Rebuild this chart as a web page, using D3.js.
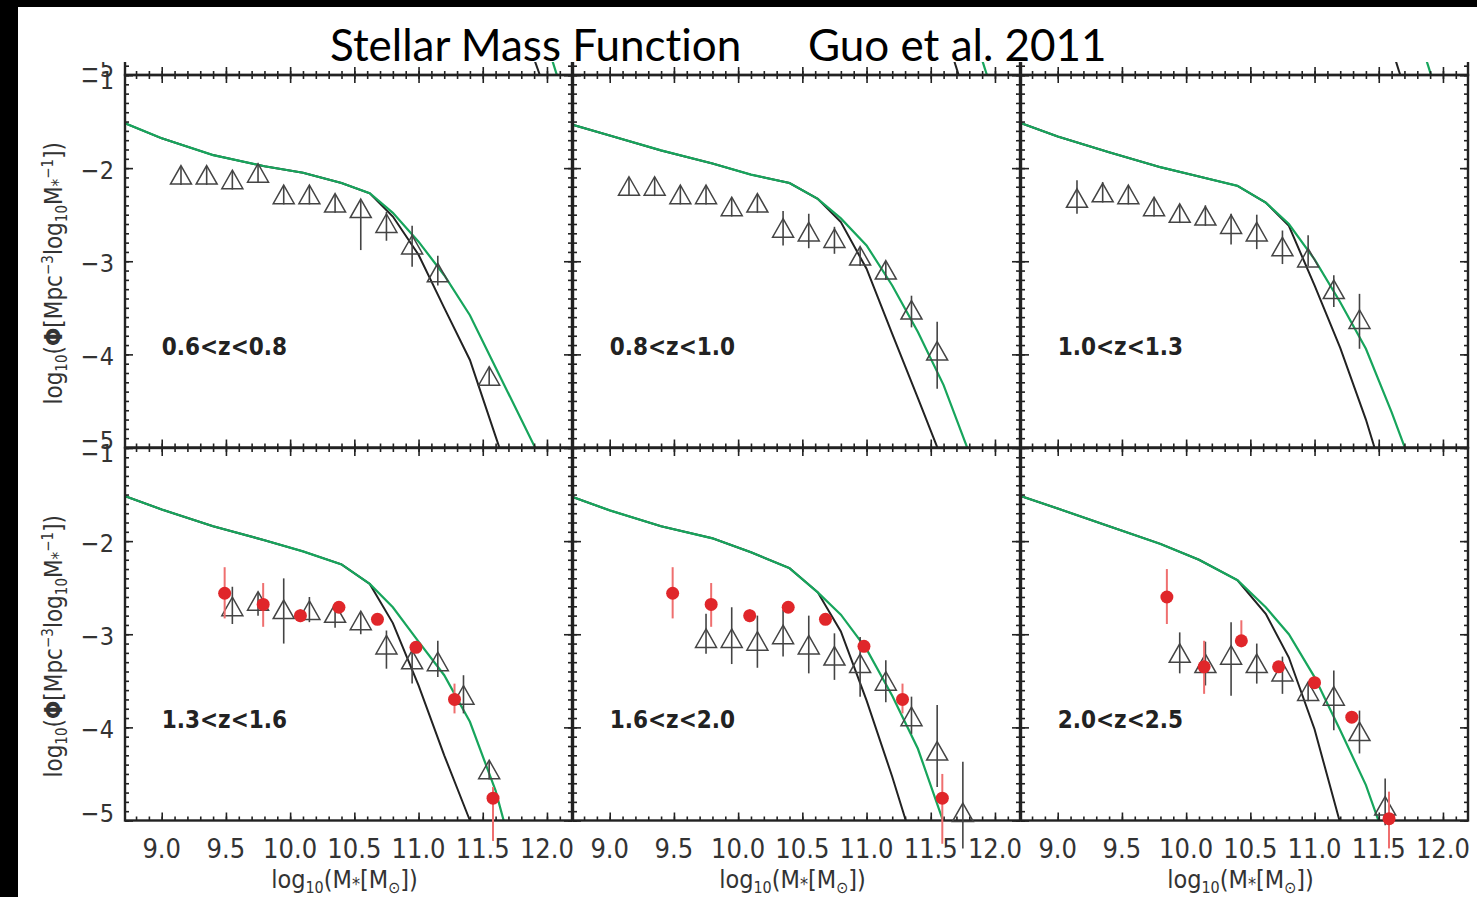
<!DOCTYPE html>
<html>
<head>
<meta charset="utf-8">
<script src="https://cdn.jsdelivr.net/npm/d3@7"></script>
<style>
  body { margin: 0; background: #000; }
  svg { display: block; }
  .title { font-variant-ligatures: none; }
</style>
</head>
<body>
<svg id="chart"></svg>
<script>
// Panel labels (redshift bins), left-to-right, top-to-bottom
const zBins = ['0.6<z<0.8', '0.8<z<1.0', '1.0<z<1.3', '1.3<z<1.6', '1.6<z<2.0', '2.0<z<2.5'];

// Axis ticks
const massMajor = [9.0, 9.5, 10.0, 10.5, 11.0, 11.5, 12.0];
const phiMajor = [-1, -2, -3, -4, -5];

// Model curves (black and green) on a shared mass grid
const curveMass = [8.7, 9.0, 9.4, 9.8, 10.1, 10.4, 10.62, 10.8, 11.0, 11.2, 11.4, 11.6, 11.8, 12.0];
const blackPhi = [
  [-1.51, -1.68, -1.86, -1.98, -2.05, -2.16, -2.27, -2.52, -2.93, -3.50, -4.06, -4.88, -5.7, -6.5],
  [-1.53, -1.65, -1.81, -1.95, -2.07, -2.16, -2.33, -2.58, -3.08, -3.78, -4.47, -5.17, -5.9, -6.6],
  [-1.51, -1.66, -1.83, -1.99, -2.09, -2.19, -2.37, -2.62, -3.26, -3.93, -4.70, -5.6, -6.5, -7.4],
  [-1.51, -1.66, -1.84, -1.99, -2.11, -2.25, -2.46, -2.88, -3.55, -4.30, -5.0, -5.7, -6.4, -7.1],
  [-1.52, -1.67, -1.84, -1.97, -2.12, -2.29, -2.55, -2.97, -3.71, -4.53, -5.42, -6.3, -7.2, -8.1],
  [-1.51, -1.65, -1.84, -2.03, -2.20, -2.42, -2.78, -3.25, -4.02, -5.03, -6.0, -7.0, -8.0, -9.0]
];
const greenPhi = [
  [-1.51, -1.68, -1.86, -1.98, -2.05, -2.16, -2.27, -2.48, -2.79, -3.15, -3.58, -4.14, -4.70, -5.26],
  [-1.53, -1.65, -1.81, -1.95, -2.07, -2.16, -2.33, -2.54, -2.83, -3.26, -3.76, -4.33, -5.06, -5.8],
  [-1.51, -1.66, -1.83, -1.99, -2.09, -2.19, -2.37, -2.60, -2.98, -3.44, -3.94, -4.62, -5.36, -6.1],
  [-1.51, -1.66, -1.84, -1.99, -2.11, -2.25, -2.46, -2.71, -3.08, -3.44, -3.94, -4.68, -5.7, -6.7],
  [-1.52, -1.67, -1.84, -1.97, -2.12, -2.29, -2.55, -2.79, -3.16, -3.66, -4.23, -5.02, -5.9, -6.8],
  [-1.51, -1.65, -1.84, -2.03, -2.20, -2.42, -2.71, -3.00, -3.46, -4.03, -4.62, -5.4, -6.2, -7.0]
];

// Curves of the cropped row above (only their ends show under the title)
const aboveMass = [[11.88, 11.97], [11.66, 11.74], [11.61, 11.69]];
const aboveBlackPhi = [-4.75, -5.1];
const aboveGreenMass = [[12.02, 12.10], [11.88, 11.96], [11.85, 11.93]];

// Open triangles with error bars
const triMass = [
  [9.15, 9.35, 9.55, 9.75, 9.95, 10.15, 10.35, 10.55, 10.75, 10.95, 11.15, 11.55],
  [9.15, 9.35, 9.55, 9.75, 9.95, 10.15, 10.35, 10.55, 10.75, 10.95, 11.15, 11.35, 11.55],
  [9.15, 9.35, 9.55, 9.75, 9.95, 10.15, 10.35, 10.55, 10.75, 10.95, 11.15, 11.35],
  [9.55, 9.75, 9.95, 10.15, 10.35, 10.55, 10.75, 10.95, 11.15, 11.35, 11.55],
  [9.75, 9.95, 10.15, 10.35, 10.55, 10.75, 10.95, 11.15, 11.35, 11.55, 11.75],
  [9.95, 10.15, 10.35, 10.55, 10.75, 10.95, 11.15, 11.35, 11.55]
];
const triPhi = [
  [-2.08, -2.08, -2.13, -2.06, -2.29, -2.29, -2.38, -2.44, -2.60, -2.83, -3.13, -4.24],
  [-2.20, -2.20, -2.29, -2.29, -2.42, -2.38, -2.65, -2.69, -2.76, -2.95, -3.10, -3.53, -3.97],
  [-2.33, -2.27, -2.29, -2.42, -2.49, -2.52, -2.61, -2.69, -2.85, -2.97, -3.31, -3.63],
  [-2.71, -2.65, -2.74, -2.75, -2.78, -2.86, -3.12, -3.28, -3.30, -3.66, -4.46],
  [-3.05, -3.05, -3.08, -3.01, -3.12, -3.24, -3.32, -3.51, -3.89, -4.26, -4.92],
  [-3.21, -3.32, -3.23, -3.32, -3.41, -3.62, -3.67, -4.05, -4.85]
];
const triHi = [
  [-1.98, -1.98, -2.03, -1.96, -2.19, -2.19, -2.28, -2.35, -2.47, -2.62, -2.94, -4.14],
  [-2.10, -2.10, -2.19, -2.19, -2.32, -2.28, -2.46, -2.49, -2.63, -2.85, -3.00, -3.37, -3.65],
  [-2.13, -2.15, -2.19, -2.32, -2.39, -2.40, -2.49, -2.50, -2.67, -2.72, -3.15, -3.35],
  [-2.49, -2.55, -2.40, -2.60, -2.68, -2.77, -2.96, -3.14, -3.07, -3.44, -4.36],
  [-2.78, -2.71, -2.80, -2.74, -2.80, -2.99, -3.03, -3.28, -3.67, -3.76, -4.37],
  [-2.98, -3.08, -2.87, -3.10, -3.24, -3.52, -3.39, -3.82, -4.55]
];
const triLo = [
  [-2.18, -2.18, -2.23, -2.16, -2.39, -2.39, -2.48, -2.88, -2.78, -3.06, -3.26, -4.34],
  [-2.30, -2.30, -2.39, -2.39, -2.52, -2.48, -2.83, -2.86, -2.92, -3.05, -3.20, -3.71, -4.37],
  [-2.49, -2.37, -2.39, -2.52, -2.59, -2.62, -2.82, -2.87, -3.03, -3.05, -3.49, -3.94],
  [-2.89, -2.80, -3.10, -2.87, -2.93, -3.00, -3.37, -3.53, -3.46, -3.85, -4.56],
  [-3.21, -3.32, -3.36, -3.24, -3.42, -3.49, -3.67, -3.73, -4.07, -4.64, -5.30],
  [-3.42, -3.55, -3.66, -3.53, -3.64, -3.72, -4.03, -4.28, -5.05]
];

// Red filled circles (bottom row only)
const dotMass = [
  [], [], [],
  [9.49, 9.79, 10.08, 10.38, 10.68, 10.98, 11.28, 11.58],
  [9.49, 9.79, 10.09, 10.39, 10.68, 10.98, 11.28, 11.59],
  [9.85, 10.14, 10.43, 10.72, 11.00, 11.29, 11.58]
];
const dotPhi = [
  [], [], [],
  [-2.56, -2.68, -2.80, -2.71, -2.84, -3.14, -3.70, -4.76],
  [-2.56, -2.68, -2.80, -2.71, -2.84, -3.13, -3.70, -4.76],
  [-2.60, -3.35, -3.07, -3.35, -3.52, -3.89, -4.98]
];
const dotHi = [
  [], [], [],
  [-2.28, -2.45, -2.73, -2.66, -2.78, -3.08, -3.53, -4.64],
  [-2.28, -2.45, -2.73, -2.66, -2.78, -3.07, -3.53, -4.50],
  [-2.30, -3.07, -2.85, -3.29, -3.46, -3.83, -4.69]
];
const dotLo = [
  [], [], [],
  [-2.83, -2.92, -2.87, -2.76, -2.90, -3.20, -3.85, -5.22],
  [-2.83, -2.92, -2.87, -2.76, -2.90, -3.19, -3.85, -5.25],
  [-2.89, -3.64, -3.14, -3.41, -3.58, -3.95, -5.30]
];

// Layout
const W = 1477, H = 897;
const colLeft = [125, 573, 1021];
const rowTop = [75, 448];
const panelW = 447, panelH = 372.5;
const figTop = 62;          // the figure crop starts just under the title
const axisFont = "'DejaVu Sans', sans-serif";
const ink = '#222';

const svg = d3.select('#chart').attr('width', W).attr('height', H);

svg.append('rect').attr('width', W).attr('height', H).attr('fill', '#000');
svg.append('rect').attr('x', 18).attr('y', 7).attr('width', W - 18).attr('height', H - 7).attr('fill', '#fff');

const defs = svg.append('defs');
defs.append('clipPath').attr('id', 'figclip')
  .append('rect').attr('x', 18).attr('y', figTop).attr('width', W).attr('height', H);

const fig = svg.append('g').attr('clip-path', 'url(#figclip)');

const line = d3.line();

function tickSet(g, axisFn, scale, values, size, tx, ty) {
  g.append('g')
    .attr('transform', `translate(${tx},${ty})`)
    .call(axisFn(scale).tickValues(values).tickSize(size).tickFormat(''))
    .call(s => s.select('.domain').remove())
    .selectAll('line').attr('stroke', ink).attr('stroke-width', 1.6);
}

const massMinor = d3.range(88, 122).map(d => d / 10);
const phiMinor = d3.range(-50, -9).map(d => d / 10);

// rows -1 (cropped row above), 0 and 1
[-1, 0, 1].forEach(row => {
  const top = row < 0 ? rowTop[0] - panelH : rowTop[row];
  const y = d3.scaleLinear().domain([-1, -5]).range([top, top + panelH]);

  colLeft.forEach((L, col) => {
    const x = d3.scaleLinear().domain([8.714, 12.195]).range([L, L + panelW]);
    const g = fig.append('g');
    const idx = row * 3 + col;

    // curves
    const cid = `clip${row + 1}_${col}`;
    defs.append('clipPath').attr('id', cid)
      .append('rect').attr('x', L).attr('y', top).attr('width', panelW).attr('height', panelH);
    const cg = g.append('g').attr('clip-path', `url(#${cid})`);
    if (row < 0) {
      cg.append('path')
        .attr('d', line(aboveMass[col].map((m, i) => [x(m), y(aboveBlackPhi[i])])))
        .attr('fill', 'none').attr('stroke', ink).attr('stroke-width', 2);
      cg.append('path')
        .attr('d', line(aboveGreenMass[col].map((m, i) => [x(m), y(aboveBlackPhi[i])])))
        .attr('fill', 'none').attr('stroke', '#17a55c').attr('stroke-width', 2.2);
    } else {
      cg.append('path')
        .attr('d', line(curveMass.map((m, i) => [x(m), y(blackPhi[idx][i])])))
        .attr('fill', 'none').attr('stroke', ink).attr('stroke-width', 2);
      cg.append('path')
        .attr('d', line(curveMass.map((m, i) => [x(m), y(greenPhi[idx][i])])))
        .attr('fill', 'none').attr('stroke', '#17a55c').attr('stroke-width', 2.2);
    }

    // frame and inward ticks
    tickSet(g, d3.axisTop, x, massMinor, 4, 0, top + panelH);
    tickSet(g, d3.axisTop, x, massMajor, 8, 0, top + panelH);
    tickSet(g, d3.axisBottom, x, massMinor, 4, 0, top);
    tickSet(g, d3.axisBottom, x, massMajor, 8, 0, top);
    tickSet(g, d3.axisRight, y, phiMinor, 4, L, 0);
    tickSet(g, d3.axisRight, y, phiMajor, 8, L, 0);
    tickSet(g, d3.axisLeft, y, phiMinor, 4, L + panelW, 0);
    tickSet(g, d3.axisLeft, y, phiMajor, 8, L + panelW, 0);
    g.append('rect')
      .attr('x', L).attr('y', top).attr('width', panelW).attr('height', panelH)
      .attr('fill', 'none').attr('stroke', ink).attr('stroke-width', 2.4);

    // y tick labels on the first column (only the -5 of the cropped row shows)
    if (col === 0) {
      g.selectAll('.ylab').data(row < 0 ? [-5] : phiMajor).enter().append('text')
        .attr('x', L - 11)
        .attr('y', d => y(d) + (d === -5 ? -7 : d === -1 ? 5 : 2))
        .attr('text-anchor', 'end')
        .attr('dominant-baseline', 'central')
        .attr('font-family', axisFont).attr('font-stretch', 'condensed')
        .attr('font-size', 25).attr('fill', '#333')
        .text(d => '\u2212' + Math.abs(d));
    }
    if (row < 0) return;

    // triangles with error bars
    const tri = triMass[idx].map((m, i) => ({ m, p: triPhi[idx][i], hi: triHi[idx][i], lo: triLo[idx][i] }));
    g.selectAll('.terr').data(tri).enter().append('line')
      .attr('x1', d => x(d.m)).attr('x2', d => x(d.m))
      .attr('y1', d => y(d.hi)).attr('y2', d => y(d.lo))
      .attr('stroke', '#444').attr('stroke-width', 1.6);
    g.selectAll('.tri').data(tri).enter().append('path')
      .attr('transform', d => `translate(${x(d.m)},${y(d.p)})`)
      .attr('d', 'M0,-10L10.5,8.5L-10.5,8.5Z')
      .attr('fill', 'none').attr('stroke', '#444').attr('stroke-width', 1.5);

    // red points with error bars
    const dots = dotMass[idx].map((m, i) => ({ m, p: dotPhi[idx][i], hi: dotHi[idx][i], lo: dotLo[idx][i] }));
    g.selectAll('.derr').data(dots).enter().append('line')
      .attr('x1', d => x(d.m)).attr('x2', d => x(d.m))
      .attr('y1', d => y(d.hi)).attr('y2', d => y(d.lo))
      .attr('stroke', '#ef6f6f').attr('stroke-width', 2);
    g.selectAll('.dot').data(dots).enter().append('circle')
      .attr('cx', d => x(d.m)).attr('cy', d => y(d.p)).attr('r', 6.5)
      .attr('fill', '#e0262a');

    // panel label
    g.append('text')
      .attr('x', x(9.0)).attr('y', y(-3.92))
      .attr('dominant-baseline', 'central')
      .attr('font-family', axisFont).attr('font-stretch', 'condensed')
      .attr('font-weight', 'bold').attr('font-size', 24).attr('fill', '#222')
      .text(zBins[idx]);

    // x tick labels and axis title on the bottom row
    if (row === 1) {
      g.selectAll('.xlab').data(massMajor).enter().append('text')
        .attr('x', d => x(d)).attr('y', 858)
        .attr('text-anchor', 'middle')
        .attr('font-family', axisFont).attr('font-stretch', 'condensed')
        .attr('font-size', 27).attr('fill', '#333')
        .text(d => d.toFixed(1));
      const t = g.append('text')
        .attr('x', L + panelW / 2 - 4).attr('y', 888)
        .attr('text-anchor', 'middle')
        .attr('font-family', axisFont).attr('font-stretch', 'condensed')
        .attr('font-size', 25).attr('fill', '#333');
      t.append('tspan').text('log');
      t.append('tspan').attr('font-size', 16).attr('dy', 5).text('10');
      t.append('tspan').attr('dy', -5).text('(M');
      t.append('tspan').attr('font-size', 18).attr('dy', 2).text('*');
      t.append('tspan').attr('dy', -2).text('[M');
      t.append('tspan').attr('font-size', 16).attr('dy', 5).text('\u2299');
      t.append('tspan').attr('dy', -5).text('])');
    }
  });

  // y axis title
  if (row >= 0) {
    const cy = top + panelH / 2 + 12;
    const t = fig.append('text')
      .attr('transform', `translate(62,${cy}) rotate(-90)`)
      .attr('text-anchor', 'middle')
      .attr('font-family', axisFont).attr('font-stretch', 'condensed')
      .attr('font-size', 24).attr('fill', '#333');
    t.append('tspan').text('log');
    t.append('tspan').attr('font-size', 15).attr('dy', 5).text('10');
    t.append('tspan').attr('dy', -5).text('(');
    t.append('tspan').attr('font-weight', 'bold').text('\u03a6');
    t.append('tspan').text('[Mpc');
    t.append('tspan').attr('font-size', 15).attr('dy', -9).text('\u22123');
    t.append('tspan').attr('dy', 9).text('log');
    t.append('tspan').attr('font-size', 15).attr('dy', 5).text('10');
    t.append('tspan').attr('dy', -5).text('M');
    t.append('tspan').attr('font-size', 17).attr('dy', 2).text('*');
    t.append('tspan').attr('font-size', 15).attr('dy', -11).text('\u22121');
    t.append('tspan').attr('dy', 9).text('])');
  }
});

// slide title
svg.append('text').attr('class', 'title').attr('x', 330).attr('y', 61)
  .attr('font-family', 'Lato, sans-serif').attr('font-size', 44).attr('fill', '#000')
  .text('Stellar Mass Function');
svg.append('text').attr('class', 'title').attr('x', 808).attr('y', 61)
  .attr('font-family', 'Lato, sans-serif').attr('font-size', 44).attr('fill', '#000')
  .text('Guo et al. 2011');
</script>
</body>
</html>
